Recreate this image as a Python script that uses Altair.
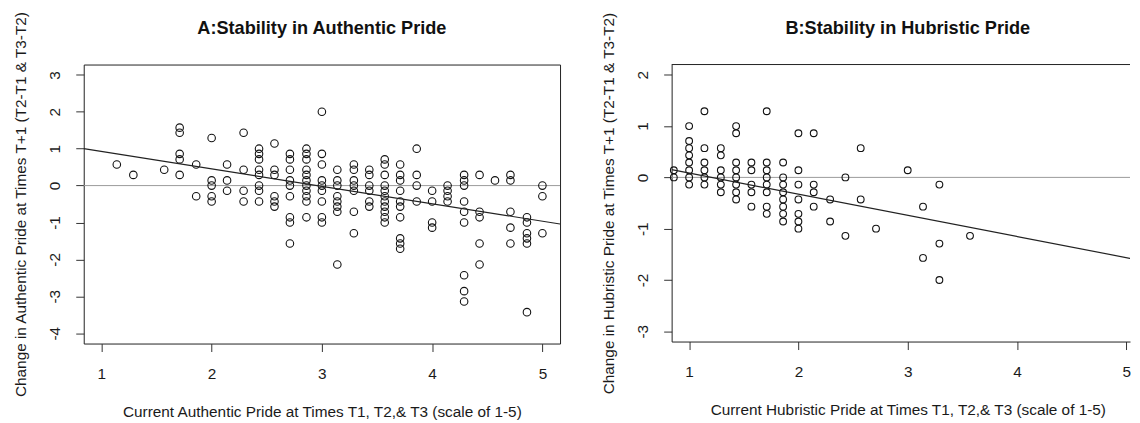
import altair as alt
import pandas as pd

FONT = "Liberation Sans"
TXT = "#1a1a1a"
FS = 15.4

# ---------------- Panel A: Authentic pride ----------------
a_cols = [1.14, 1.29, 1.57, 1.71, 1.86, 2.00, 2.14, 2.29, 2.43, 2.57, 2.71, 2.86, 3.00,
          3.14, 3.29, 3.43, 3.57, 3.71, 3.86, 4.00, 4.14, 4.29, 4.43, 4.57, 4.71, 4.86, 5.00]
a_vals = [
    [0.57],
    [0.29],
    [0.43],
    [1.57, 1.43, 0.86, 0.71, 0.29],
    [0.57, -0.29],
    [1.29, 0.14, 0, -0.29, -0.43],
    [0.57, 0.14, -0.14],
    [1.43, 0.43, -0.14, -0.43],
    [1.0, 0.86, 0.71, 0.43, 0.29, 0, -0.14, -0.43],
    [1.14, 0.43, 0.29, -0.29, -0.43, -0.57],
    [0.86, 0.71, 0.43, 0.14, 0, -0.29, -0.86, -1.0, -1.57],
    [1.0, 0.86, 0.71, 0.43, 0.29, 0.14, 0, -0.14, -0.29, -0.43, -0.86],
    [2.0, 0.86, 0.57, 0.14, 0, -0.14, -0.43, -0.86, -1.0],
    [0.43, 0.14, 0, -0.29, -0.43, -0.57, -0.71, -2.14],
    [0.57, 0.43, 0.14, 0, -0.14, -0.71, -1.29],
    [0.43, 0.29, 0, -0.14, -0.43, -0.57],
    [0.71, 0.57, 0.29, 0, -0.14, -0.29, -0.43, -0.57, -0.71, -0.86, -1.0],
    [0.57, 0.29, 0.14, -0.14, -0.43, -0.57, -0.86, -1.43, -1.57, -1.71],
    [1.0, 0.29, 0, -0.43],
    [-0.14, -0.43, -1.0, -1.14],
    [0, -0.14, -0.29, -0.43],
    [0.29, 0.14, 0, -0.43, -0.71, -1.0, -2.43, -2.86, -3.14],
    [0.29, -0.71, -0.86, -1.57, -2.14],
    [0.14],
    [0.29, 0.14, -0.71, -1.14, -1.57],
    [-0.86, -1.0, -1.29, -1.43, -1.57, -3.43],
    [0, -0.29, -1.29],
]
a_fit_x = [0.84, 5.16]
a_fit_y = [1.0, -1.04]
a_xticks = [1, 2, 3, 4, 5]
a_yticks = [-4, -3, -2, -1, 0, 1, 2, 3]

# ---------------- Panel B: Hubristic pride ----------------
b_cols = [0.86, 1.00, 1.14, 1.29, 1.43, 1.57, 1.71, 1.86, 2.00, 2.14, 2.29, 2.43, 2.57,
          2.71, 3.00, 3.14, 3.29, 3.57]
b_vals = [
    [0.14, 0],
    [1.0, 0.71, 0.57, 0.43, 0.29, 0.14, 0, -0.14],
    [1.29, 0.57, 0.29, 0.14, 0, -0.14],
    [0.57, 0.43, 0.14, 0, -0.14, -0.29],
    [1.0, 0.86, 0.29, 0.14, 0, -0.14, -0.29, -0.43],
    [0.29, 0.14, -0.14, -0.29, -0.57],
    [1.29, 0.29, 0.14, 0, -0.14, -0.29, -0.57, -0.71],
    [0.29, 0, -0.14, -0.29, -0.43, -0.57, -0.71, -0.86],
    [0.86, 0.14, -0.14, -0.43, -0.71, -0.86, -1.0],
    [0.86, -0.14, -0.29, -0.57],
    [-0.43, -0.86],
    [0, -1.14],
    [0.57, -0.43],
    [-1.0],
    [0.14],
    [-0.57, -1.57],
    [-0.14, -1.29, -2.0],
    [-1.14],
]
b_fit_x = [0.84, 5.16]
b_fit_y = [0.15, -1.63]
b_xticks = [1, 2, 3, 4, 5]
b_yticks = [-3, -2, -1, 0, 1, 2]

titles = ["A:Stability in Authentic Pride", "B:Stability in Hubristic Pride"]
x_titles = ["Current Authentic Pride at Times T1, T2,& T3 (scale of 1-5)",
            "Current Hubristic Pride at Times T1, T2,& T3 (scale of 1-5)"]
y_titles = ["Change in Authentic Pride at Times T+1 (T2-T1 & T3-T2)",
            "Change in Hubristic Pride at Times T+1 (T2-T1 & T3-T2)"]


def points_df(cols, vals):
    return pd.DataFrame([{"x": c, "y": v} for c, vs in zip(cols, vals) for v in vs])


def panel(cols, vals, fit_x, fit_y, xdom, ydom, xticks, yticks, title, xtitle, ytitle,
          w, h, size, boxed, title_x, xtitle_x):
    xs = alt.Scale(domain=xdom, nice=False, zero=False)
    ys = alt.Scale(domain=ydom, nice=False, zero=False)
    common = dict(grid=False, tickSize=8, tickColor="#333333", tickWidth=1,
                  domain=not boxed, domainColor="#222222", domainWidth=1,
                  labelFont=FONT, labelFontSize=FS, labelColor=TXT,
                  labelExpr="'' + datum.value",
                  titleFont=FONT, titleFontSize=FS, titleFontWeight="normal",
                  titleColor=TXT, titleAlign="center", titleBaseline="alphabetic")
    xaxis = alt.Axis(values=xticks, title=xtitle, labelBaseline="alphabetic",
                     labelAlign="center", labelPadding=27, labelAngle=0,
                     titleX=xtitle_x, titleY=73, **common)
    yaxis = alt.Axis(values=yticks, title=ytitle, labelAngle=270, labelAlign="center",
                     labelBaseline="alphabetic", labelPadding=16.7,
                     titleAngle=270, titleX=-58, titleY=h / 2, **common)
    xenc = alt.X("x:Q", scale=xs, axis=xaxis)
    yenc = alt.Y("y:Q", scale=ys, axis=yaxis)

    zero = alt.Chart(pd.DataFrame({"y": [0]})).mark_rule(
        color="#9c9c9c", strokeWidth=1).encode(y=yenc)
    pts = alt.Chart(points_df(cols, vals)).mark_point(
        shape="circle", filled=False, size=size, color="#111111",
        strokeWidth=1.1, opacity=1).encode(x=xenc, y=yenc)
    fit = alt.Chart(pd.DataFrame({"x": fit_x, "y": fit_y})).mark_line(
        color="#222222", strokeWidth=1.2, clip=True).encode(x=xenc, y=yenc)
    head = alt.Chart(pd.DataFrame({"t": [title]})).mark_text(
        font=FONT, fontSize=18.2, fontWeight="bold", color="#111111",
        baseline="alphabetic", align="center").encode(
        text="t:N", x=alt.value(title_x), y=alt.value(-31))
    layers = [zero, pts, fit, head]
    if not boxed:
        top = alt.Chart(pd.DataFrame({"y": [0]})).mark_rule(
            color="#222222", strokeWidth=1).encode(
            x=alt.value(0), x2=alt.value(w), y=alt.value(0))
        layers.append(top)
    view = alt.ViewBackground(stroke="#222222", strokeWidth=1) if boxed else \
        alt.ViewBackground(stroke="transparent")
    return alt.layer(*layers).properties(width=w, height=h, view=view)


# Panel B is cut off at the right edge of the figure, as in the reference.
A = panel(a_cols, a_vals, a_fit_x, a_fit_y, [0.84, 5.16], [-4.28, 3.28], a_xticks, a_yticks,
          titles[0], x_titles[0], y_titles[0], 478, 280, 57, True, 239, 239)
B = panel(b_cols, b_vals, b_fit_x, b_fit_y, [0.84, 5.034], [-3.2, 2.2], b_xticks, b_yticks,
          titles[1], x_titles[1], y_titles[1], 460, 278, 46, False, 237, 237)

chart = alt.hconcat(A, B, spacing=40).properties(
    padding={"left": 5, "top": 1, "right": 0, "bottom": 0}
).configure(background="white")

chart.save("out.html", embed_options={"renderer": "svg", "actions": False})
